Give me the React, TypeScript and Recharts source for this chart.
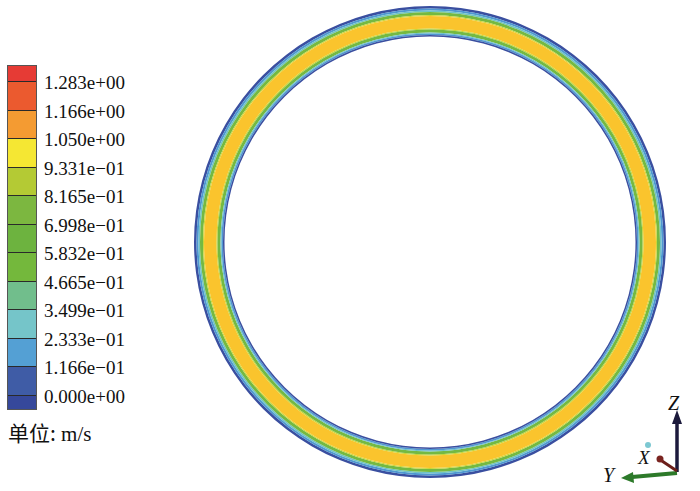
import { PieChart, Pie, Cell } from 'recharts';

// legend levels (m/s), top to bottom
const levelLabels = [
  '1.283e+00', '1.166e+00', '1.050e+00', '9.331e−01', '8.165e−01', '6.998e−01',
  '5.832e−01', '4.665e−01', '3.499e−01', '2.333e−01', '1.166e−01', '0.000e+00',
];
const bandColors = [
  '#e63b35', '#eb5a2f', '#f49b32', '#f5e733', '#b4ca34', '#7cb740', '#6db33f',
  '#74b83c', '#71be8c', '#75c5c9', '#54a0d4', '#3f5ca6', '#36489b',
];

// velocity across the pipe wall, outer edge -> inner edge
const wallProfile = [0.02, 0.15, 0.28, 0.6, 0.9, 1.1, 0.9, 0.6, 0.28, 0.15, 0.02];
const wallColors = [
  '#3a4fa0', '#4f97d1', '#6fc3c6', '#74b942', '#c9d634', '#fac42d',
  '#c9d634', '#74b942', '#6fc3c6', '#4f97d1', '#3a4fa0',
];
// layer thickness in px (layout only)
const layerWidths = [2.5, 2, 1.5, 3, 1, 12.5, 1, 3, 1, 1.5, 1.5];

const OUTER_R = 236;
const CX = 430;
const CY = 242;

const legendTop = 65;
const firstBoundary = 80;
const step = (394 - 80) / 11;

export default function App() {
  let r = OUTER_R;
  const layers = wallProfile.map((v, i) => {
    const outer = r;
    const inner = r - layerWidths[i];
    r = inner;
    return { v, outer, inner, color: wallColors[i] };
  });

  const bandHeights = bandColors.map((_, i) =>
    i === 0 ? firstBoundary - legendTop : i === bandColors.length - 1 ? 14 : step
  );

  return (
    <div style={{ position: 'absolute', left: 0, top: 0, width: 700, height: 491, background: '#fff' }}>
      <PieChart width={700} height={491} margin={{ top: 0, right: 0, bottom: 0, left: 0 }}>
        {layers.map((l, i) => (
          <Pie
            key={i}
            data={[{ name: 'u', value: l.v }]}
            dataKey="value"
            cx={CX}
            cy={CY}
            innerRadius={l.inner}
            outerRadius={l.outer}
            startAngle={90}
            endAngle={450}
            stroke="none"
            isAnimationActive={false}
          >
            <Cell fill={l.color} />
          </Pie>
        ))}
      </PieChart>

      {/* colour legend */}
      <div style={{ position: 'absolute', left: 7, top: legendTop, width: 30, border: '1px solid #555', boxSizing: 'border-box' }}>
        {bandColors.map((c, i) => (
          <div
            key={i}
            style={{
              height: bandHeights[i],
              background: c,
              borderTop: i === 0 ? 'none' : '1px solid #2a2a2a',
              boxSizing: 'border-box',
            }}
          />
        ))}
      </div>
      {levelLabels.map((t, i) => (
        <div
          key={t}
          style={{
            position: 'absolute',
            left: 44,
            top: firstBoundary + i * step - 8,
            height: 22,
            lineHeight: '22px',
            fontFamily: '"Liberation Serif", "Times New Roman", serif',
            fontSize: 19,
            color: '#111',
            whiteSpace: 'nowrap',
          }}
        >
          {t}
        </div>
      ))}
      <div
        style={{
          position: 'absolute',
          left: 8,
          top: 419,
          fontSize: 21,
          lineHeight: '26px',
          color: '#111',
          whiteSpace: 'nowrap',
        }}
      >
        <span style={{ fontFamily: '"Noto Sans CJK SC", sans-serif' }}>单位:</span>
        <span style={{ fontFamily: '"Liberation Serif", serif' }}> m/s</span>
      </div>

      {/* axis triad */}
      <svg width={700} height={491} style={{ position: 'absolute', left: 0, top: 0 }}>
        <line x1={677} y1={472} x2={677} y2={420} stroke="#1c1a3c" strokeWidth={3.5} />
        <polygon points="677,410 672,424 682,424" fill="#1c1a3c" />
        <text x={668} y={410} fontFamily='"Liberation Serif", serif' fontStyle="italic" fontSize={20} fill="#111">Z</text>
        <line x1={677} y1={473} x2={632} y2={477} stroke="#2d7a2a" strokeWidth={4} />
        <polygon points="621,478 633,472 634,483" fill="#2d7a2a" />
        <text x={603} y={482} fontFamily='"Liberation Serif", serif' fontStyle="italic" fontSize={20} fill="#111">Y</text>
        <line x1={677} y1={471} x2={662} y2={461} stroke="#6b1f1a" strokeWidth={3} />
        <circle cx={660} cy={459} r={3.5} fill="#7a2420" />
        <circle cx={648} cy={445} r={3} fill="#7dc8d2" />
        <text x={638} y={464} fontFamily='"Liberation Serif", serif' fontStyle="italic" fontSize={19} fill="#111">X</text>
      </svg>
    </div>
  );
}
